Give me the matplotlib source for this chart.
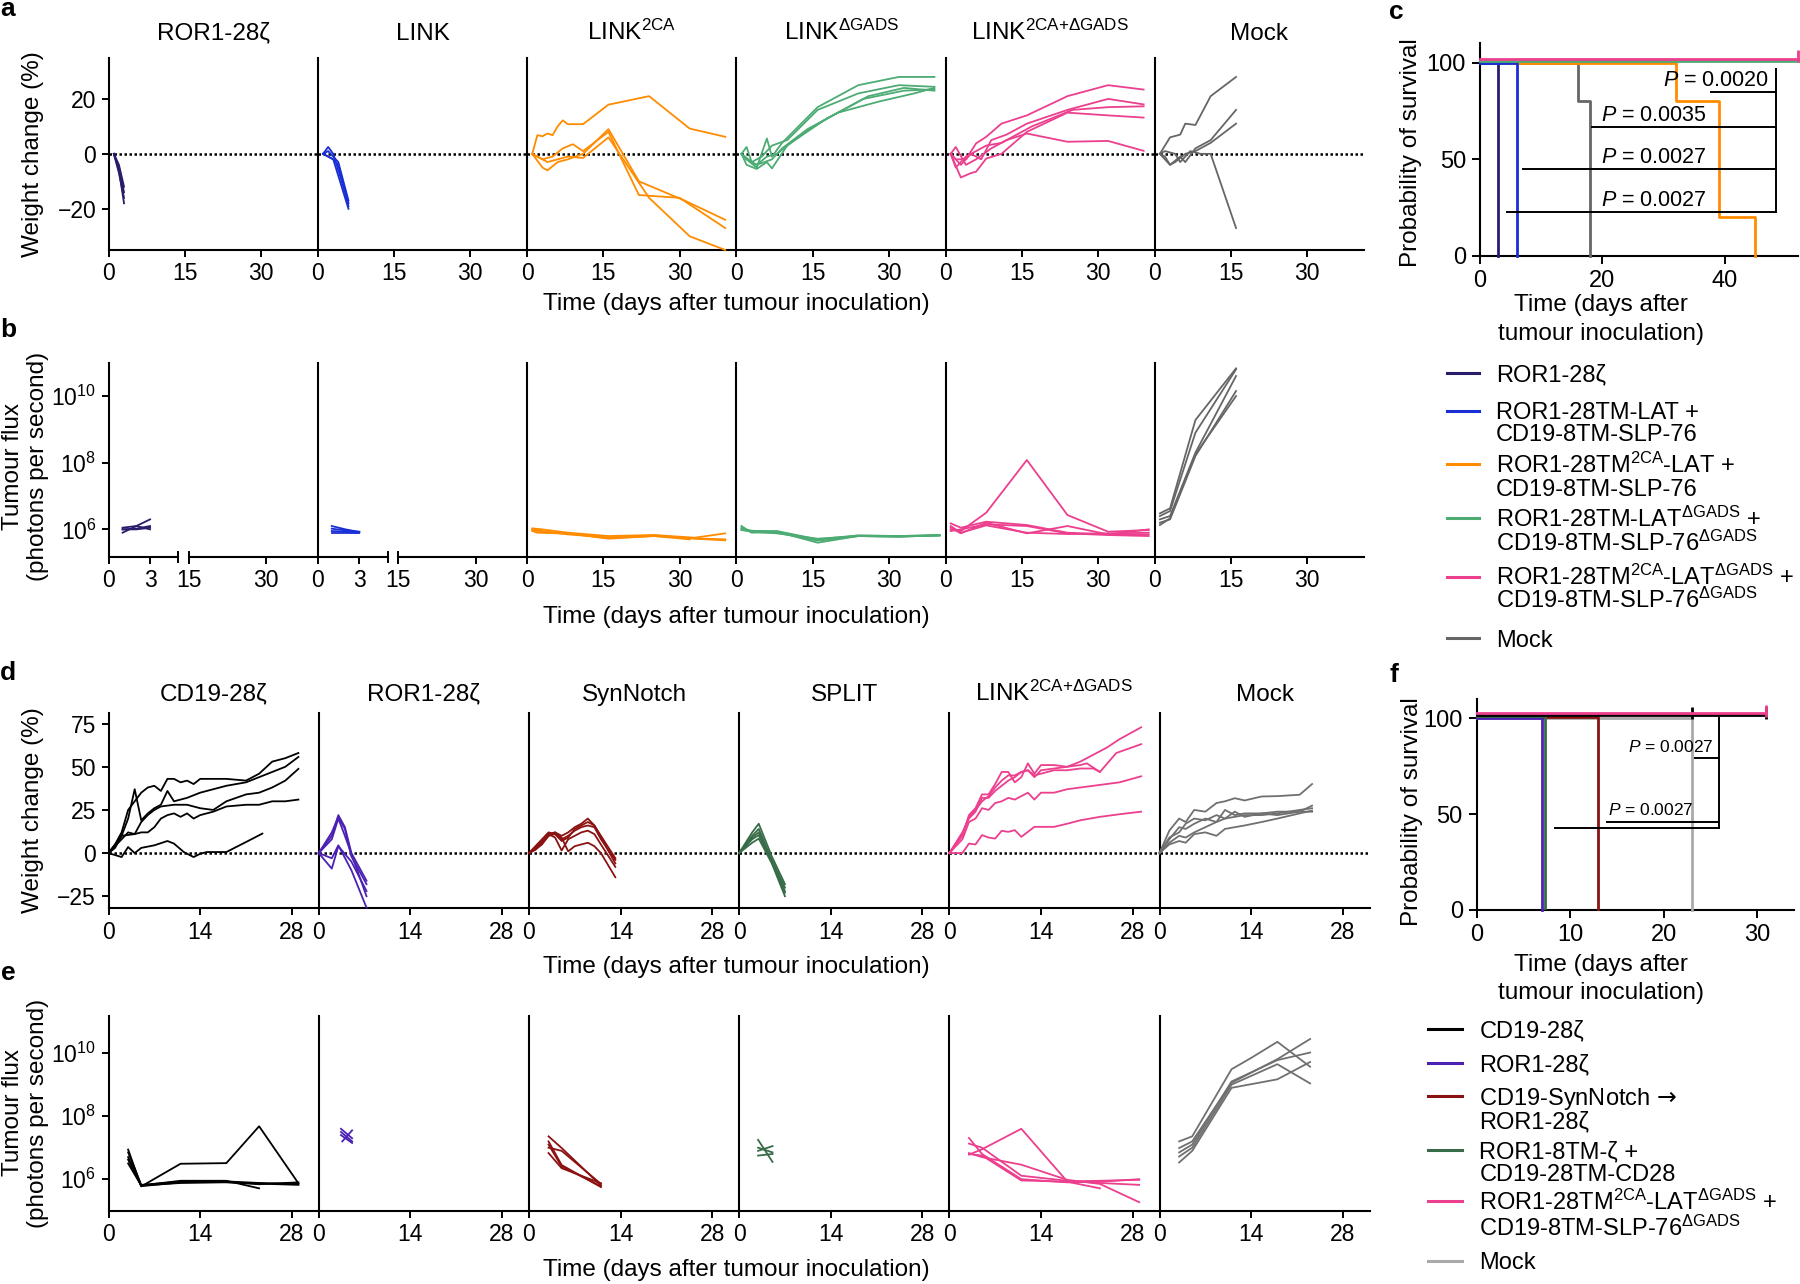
import numpy as np
import matplotlib.pyplot as plt
from matplotlib.lines import Line2D

# ---------------- panel a: weight change (%) ----------------
A_TITLES = ['ROR1-28ζ', 'LINK', 'LINK$^{2CA}$', 'LINK$^{ΔGADS}$', 'LINK$^{2CA{+}ΔGADS}$', 'Mock']
A_XTICKS = [0, 15, 30]
A_YTICKS = [-20, 0, 20]

A_ROR1_T = [[1, 2, 3], [1, 2, 3], [1, 2, 3], [1, 2, 3]]
A_ROR1_W = [[0, -4, -12], [0, -6, -18], [0, -5, -14], [0, -7, -16]]
A_LINK_T = [[1, 2, 3, 6], [1, 2, 3, 6], [1, 2, 4, 6], [1, 3, 4, 6]]
A_LINK_W = [[0, 2.5, 0, -18], [0, -1, -2, -20], [0, 1, -3, -17], [0, -2, -4, -19]]
A_2CA_T = [[1, 2, 3, 4, 5, 6, 7, 8, 11, 16, 24, 32, 39],
           [1, 3, 4, 6, 8, 11, 16, 22, 31, 39],
           [1, 3, 5, 7, 9, 11, 16, 22, 30, 39],
           [1, 2, 4, 6, 8, 11, 16, 24, 32, 39]]
A_2CA_W = [[0, 6.8, 6.4, 7.4, 6.8, 10, 12.2, 10.8, 10.8, 17.9, 21, 9.2, 6.2],
           [0, -5, -6, -3, -2, 0, 9, -10, -17, -24],
           [0, -2, -1, 2, 3.5, 1, 8, -15, -16, -27],
           [0, -1, -3, -2, -1, -1.5, 6, -16, -30, -35]]
A_DG_T = [[1, 2, 4, 6, 7, 9, 16, 24, 32, 39],
          [1, 2, 3, 5, 7, 10, 16, 24, 32, 39],
          [1, 2, 4, 6, 7, 10, 17, 25, 33, 39],
          [1, 3, 4, 6, 8, 12, 18, 26, 33, 39],
          [1, 2, 4, 7, 9, 14, 20, 28, 35, 39]]
A_DG_W = [[0, -2, -5, 5.6, -1, 4, 17, 25, 28, 28],
          [0, 2.5, -3, -1, 3, 5, 16, 22, 25, 24.4],
          [0, -4, -5.5, -3, -5.3, 3, 12, 20, 23, 23.5],
          [0, -3, -4, -1, 0, 6, 13, 21, 24, 23],
          [0, -2, -4, -2, 2, 9, 15, 19, 22, 24]]
A_2CADG_T = [[1, 2, 4, 6, 8, 11, 16, 24, 32, 39],
             [1, 3, 5, 7, 9, 12, 16, 24, 32, 39],
             [1, 2, 4, 6, 8, 11, 17, 25, 32, 39],
             [1, 3, 5, 6, 8, 11, 16, 24, 32, 39],
             [1, 2, 4, 6, 9, 12, 16, 24, 32, 39]]
A_2CADG_W = [[0, -2, -2, 3.8, 6.2, 11, 14, 21, 25, 23.4],
             [0, -4, 0, -2, 5, 7, 11, 16, 20, 18],
             [0, -5, -1, 1, 3, 4, 10, 16, 17, 17.3],
             [0, -8.6, -7, -6.5, -1.7, 0, 8, 15, 14, 13.2],
             [0, 2.5, -4, -2, 2, 5, 7.4, 4.4, 4.7, 1.1]]
A_MOCK_T = [[1, 2, 3, 5, 6, 8, 11, 16],
            [1, 2, 3, 5, 6, 8, 11, 16],
            [1, 2, 3, 4, 6, 8, 11, 16],
            [1, 2, 4, 5, 7, 9, 11, 16]]
A_MOCK_W = [[0, 3, 6, 7, 11, 10.5, 21, 28],
            [0, -2, -4, -1, -3, 2, 5, 16],
            [0, -1, -4, -3, 0, 1, 4, 11],
            [0, 1, 0, -3, 1, 0, 0, -27]]

# ---------------- panel b: tumour flux (log10 photons/s) ----------------
B_ROR1_T = [[1, 2, 3]] * 4
B_ROR1_F = [[5.9, 6.1, 6.3], [6.0, 6.0, 6.05], [6.05, 6.1, 6.0], [6.0, 6.02, 6.1]]
B_LINK_T = [[1, 2, 3]] * 4
B_LINK_F = [[6.1, 6.0, 5.92], [5.9, 5.9, 5.9], [6.02, 5.97, 5.93], [5.95, 5.93, 5.9]]
B_2CA_T = [[1, 3, 8, 16, 25, 33, 39], [1, 3, 8, 16, 25, 33, 39],
           [1, 3, 8, 16, 25, 33, 39], [1, 2, 8, 16, 25, 32]]
B_2CA_F = [[6.03, 6.0, 5.9, 5.8, 5.83, 5.75, 5.88], [5.98, 5.92, 5.88, 5.72, 5.8, 5.73, 5.7],
           [6.0, 5.95, 5.85, 5.76, 5.82, 5.72, 5.67], [5.95, 5.9, 5.87, 5.74, 5.8, 5.7]]
B_DG_T = [[1, 3, 8, 16, 24, 32, 40]] * 5
B_DG_F = [[6.1, 5.9, 5.93, 5.6, 5.8, 5.78, 5.82], [6.0, 5.95, 5.95, 5.7, 5.82, 5.8, 5.83],
          [6.05, 5.92, 5.9, 5.66, 5.8, 5.79, 5.81], [5.98, 5.93, 5.88, 5.72, 5.8, 5.78, 5.83],
          [6.02, 5.96, 5.92, 5.68, 5.81, 5.8, 5.82]]
B_2CADG_T = [[1, 3, 8, 16, 24, 32, 40]] * 5
B_2CADG_F = [[6.0, 5.95, 6.5, 8.08, 6.43, 5.93, 5.98], [6.18, 6.05, 6.23, 6.13, 5.9, 5.85, 5.85],
             [6.05, 5.88, 6.2, 5.88, 6.1, 5.85, 6.0], [5.95, 6.0, 6.15, 6.1, 5.88, 5.83, 5.8],
             [6.1, 5.9, 6.12, 5.9, 5.86, 5.88, 5.9]]
B_MOCK_T = [[1, 3, 8, 16]] * 5
B_MOCK_F = [[6.48, 6.63, 9.28, 10.83], [6.4, 6.55, 8.9, 10.8], [6.3, 6.4, 8.3, 10.6],
            [6.2, 6.3, 8.2, 10.15], [6.13, 6.33, 8.25, 10.0]]

AB_COLORS = ['#2b1b6b', '#1a2ed6', '#ff8c00', '#4dab74', '#ec3f8e', '#666666']

# ---------------- panel c: survival ----------------
C_ROR1_T, C_ROR1_P = [0, 3], [100, 0]
C_LINK_T, C_LINK_P = [0, 6], [100, 0]
C_2CA_T, C_2CA_P = [0, 32, 39, 45], [100, 80, 20, 0]
C_DG_T, C_DG_P = [0, 52], [100, 100]
C_2CADG_T, C_2CADG_P = [0, 52], [100, 100]
C_MOCK_T, C_MOCK_P = [0, 16, 18], [100, 80, 0]
C_2CADG_CENSOR = [52]
C_P_TEXT = ['0.0020', '0.0035', '0.0027', '0.0027']
C_P_Y = [84.8, 66.4, 44.8, 22.7]
C_P_X0 = [37.8, 18.3, 7.1, 4.4]
C_LEGEND = [['ROR1-28ζ'],
            ['ROR1-28TM-LAT +', 'CD19-8TM-SLP-76'],
            ['ROR1-28TM$^{2CA}$-LAT +', 'CD19-8TM-SLP-76'],
            ['ROR1-28TM-LAT$^{ΔGADS}$ +', 'CD19-8TM-SLP-76$^{ΔGADS}$'],
            ['ROR1-28TM$^{2CA}$-LAT$^{ΔGADS}$ +', 'CD19-8TM-SLP-76$^{ΔGADS}$'],
            ['Mock']]

# ---------------- panel d: weight change (%) ----------------
D_TITLES = ['CD19-28ζ', 'ROR1-28ζ', 'SynNotch', 'SPLIT', 'LINK$^{2CA{+}ΔGADS}$', 'Mock']
D_XTICKS = [0, 14, 28]
D_YTICKS = [-25, 0, 25, 50, 75]

D_CD19_T = [[0, 1, 2, 3, 4, 5, 6, 7, 8, 9, 10, 11, 12, 13, 14, 16, 18, 21, 23, 25, 27, 29],
            [0, 1, 2, 3, 4, 5, 6, 7, 8, 9, 10, 12, 14, 16, 18, 21, 23, 25, 27, 29],
            [0, 2, 3, 4, 5, 6, 7, 8, 10, 12, 14, 16, 18, 21, 23, 25, 27, 29],
            [0, 2, 4, 5, 6, 7, 8, 9, 10, 11, 12, 13, 14, 16, 18, 21, 23, 25, 27, 29],
            [0, 2, 3, 4, 5, 7, 9, 10, 11.5, 13, 14, 15, 18, 21, 23.5]]
D_CD19_W = [[0, 5, 12, 25, 30, 35, 38, 39, 36, 43, 43, 41, 42, 40, 43, 43, 43, 42, 46, 53, 55, 58],
            [0, 3, 10, 20, 37, 19, 23, 26, 28, 36, 30, 32, 35, 37, 39, 41, 44, 47, 50, 55.7],
            [0, 8, 12, 11, 18, 22, 25, 27, 28, 28, 26, 25, 30, 34, 35, 38, 42, 48.8],
            [0, 10, 11, 12, 12, 15, 20, 22, 23, 21, 23, 20, 22, 24, 27, 28, 28, 30, 30, 31],
            [0, -2.3, 3.5, 0, 3, 4.5, 7, 5.5, 0.6, -2.3, -0.4, 0.6, 0.6, 6.4, 11.3]]
D_ROR1_T = [[0, 2, 3, 4, 5, 7.3], [0, 2, 3, 4, 5, 7.3], [0, 2, 3, 5, 7.3],
            [0, 2, 3, 5, 7.3], [0, 2, 3, 4, 7.3]]
D_ROR1_W = [[0, 10, 22, 15, 0, -16], [0, 12, 21, 14, -2, -18], [0, -9, 4, -5, -22],
            [0, -3, 4.5, -10, -31.6], [0, 8, 20, 10, -25]]
D_SYN_T = [[0, 1, 2, 3, 4, 5, 6, 7, 8, 9, 10, 11, 13.2]] * 5
D_SYN_W = [[0, 3, 6, 11, 12, 10, 12, 15, 17, 20, 16, 10, -3],
           [0, 2, 5, 10, 12, 8, 10, 13, 15, 16, 15, 8, -4],
           [0, 3, 7, 11, 9, 1.5, 8, 10, 12, 13, 11, 5, -8],
           [0, 2, 6, 10, 11, 9, 1, 4, 5, 6, 4, 0, -14],
           [0, 4, 8, 12, 11, 7, 9, 14, 16, 18, 16, 9, -6]]
D_SPLIT_T = [[0, 1, 2, 3, 5, 7]] * 5
D_SPLIT_W = [[0, 6, 12, 17, -2, -18], [0, 5, 10, 14, -4, -20], [0, 4, 8, 10.4, -5, -22],
             [0, 3, 6, 8.4, -6, -25], [0, 4, 9, 12, -5, -23]]
D_2CADG_T = [[0, 2, 3, 4, 5, 6, 7, 8, 9, 10, 11, 12, 13, 14, 16, 18, 20, 22, 24, 26, 29.3],
             [0, 2, 3, 4, 5, 6, 7, 8, 9, 10, 11, 12, 13, 14, 16, 18, 20, 22, 23, 25.5, 29.3],
             [0, 2, 3, 4, 5, 6, 7, 8, 9, 10, 11, 12, 13, 14, 16, 18, 20, 22, 24, 26, 29.3],
             [0, 2, 3, 4, 5, 6, 7, 8, 9, 10, 11, 12, 13, 14, 16, 18, 20, 23, 26, 29.3],
             [0, 2, 3, 4, 5, 6, 7, 8, 9, 10, 11, 12, 13, 14, 16, 18, 20, 21, 23]]
D_2CADG_W = [[0, 10, 22, 26, 34, 34, 40, 47, 47, 41, 44, 52, 46, 51, 51, 50, 53, 57, 61, 66, 72.9],
             [0, 12, 20, 24, 32, 32, 36, 39, 42, 44, 47, 48, 45, 46, 48, 48, 49, 49, 47, 58, 63.1],
             [0, 8, 18, 20, 26, 25, 29, 30, 32, 31, 33, 35, 31, 35, 35, 37, 38, 39, 40, 41, 44.5],
             [0, 0, 5.5, 5, 10.4, 9, 8.4, 12.9, 12.3, 13.3, 9.4, 12.3, 15.2, 15.2, 15.2, 17, 19, 21, 22.5, 24],
             [0, 11, 21, 25, 30, 33, 38, 42, 45, 45, 47, 48, 44, 48, 49, 50, 51, 52, 47]]
D_MOCK_T = [[0, 1.5, 3, 4, 5.3, 7, 8.7, 10, 11.5, 13, 15.6, 18, 21.4, 23.3]] * 5
D_MOCK_W = [[0, 13, 20, 18, 25, 24, 29, 30, 31.8, 30.5, 32.8, 33, 33.8, 40],
            [0, 8, 15, 14, 17, 20, 18, 25, 22, 23, 23, 24, 24, 27.5],
            [0, 6, 10, 9, 12, 15, 18, 20, 21, 22, 22, 23, 25, 26],
            [0, 5, 7, 6, 11, 12, 10, 14, 15, 16, 18, 20, 23, 24.6],
            [0, 9, 12, 17, 20, 19, 22, 20, 24, 21, 23, 22, 24, 24]]

# ---------------- panel e: tumour flux (log10 photons/s) ----------------
E_CD19_T = [[3, 5, 11, 18, 23, 29], [3, 5, 11, 18, 23], [3, 5, 11, 18, 23, 29],
            [3, 5, 11, 18, 23, 29], [3, 5, 11, 18, 23, 29]]
E_CD19_F = [[6.94, 5.77, 6.49, 6.51, 7.68, 5.87], [6.62, 5.8, 5.95, 5.95, 5.71],
            [6.85, 5.82, 5.92, 5.93, 5.88, 5.85], [6.7, 5.78, 5.9, 5.9, 5.86, 5.82],
            [6.5, 5.8, 5.88, 5.91, 5.84, 5.9]]
E_ROR1_T = [[3.4, 5.1], [3.4, 5.1], [3.4, 5.1], [3.6, 5.1]]
E_ROR1_F = [[7.6, 7.3], [7.5, 7.2], [7.4, 7.15], [7.2, 7.55]]
E_SYN_T = [[3, 5, 11]] * 5
E_SYN_F = [[7.36, 6.99, 5.8], [7.1, 6.4, 5.78], [6.83, 6.35, 5.87], [7.0, 6.9, 5.85], [7.2, 6.45, 5.75]]
E_SPLIT_T = [[2.9, 5.1]] * 4
E_SPLIT_F = [[7.25, 6.55], [6.9, 7.05], [6.75, 6.8], [7.0, 6.85]]
E_2CADG_T = [[3, 5, 11, 18, 23, 29]] * 4 + [[3, 5, 11, 18, 23]]
E_2CADG_F = [[6.78, 6.95, 7.6, 5.93, 5.95, 5.98], [7.31, 6.8, 6.0, 5.9, 5.92, 6.0],
             [7.13, 7.0, 6.11, 5.95, 5.88, 5.82], [6.83, 6.7, 6.46, 5.98, 5.85, 5.27],
             [6.8, 6.75, 5.96, 5.92, 5.71]]
E_MOCK_T = [[3, 5, 11, 14, 18, 23]] + [[3, 5, 11, 18, 23]] * 4
E_MOCK_F = [[7.2, 7.36, 9.49, 9.85, 10.36, 9.57], [6.99, 7.2, 9.06, 9.81, 10.45],
            [6.72, 7.0, 9.0, 9.65, 9.04], [6.53, 6.9, 8.9, 9.17, 9.72],
            [6.85, 7.1, 9.1, 9.78, 10.02]]

DE_COLORS = ['#000000', '#4b21b3', '#8b1212', '#386b47', '#ec3f8e', '#707070']

# ---------------- panel f: survival ----------------
F_CD19_T, F_CD19_P = [0, 31], [100, 100]
F_ROR1_T, F_ROR1_P = [0, 7], [100, 0]
F_SYN_T, F_SYN_P = [0, 13], [100, 0]
F_SPLIT_T, F_SPLIT_P = [0, 7.3], [100, 0]
F_2CADG_T, F_2CADG_P = [0, 31], [100, 100]
F_MOCK_T, F_MOCK_P = [0, 23], [100, 0]
F_CD19_CENSOR = [23, 31]
F_2CADG_CENSOR = [31]
F_P_TEXT = ['0.0027', '0.0027']
F_P_Y = [79.6, 45.9, 42.8]
F_P_X0 = [23.4, 13.9, 8.4]
F_COLORS = ['#000000', '#4b21b3', '#8b1212', '#386b47', '#ec3f8e', '#aaaaaa']
F_LEGEND = [['CD19-28ζ'],
            ['ROR1-28ζ'],
            ['CD19-SynNotch $\\mathsf{→}$', 'ROR1-28ζ'],
            ['ROR1-8TM-ζ +', 'CD19-28TM-CD28'],
            ['ROR1-28TM$^{2CA}$-LAT$^{ΔGADS}$ +', 'CD19-8TM-SLP-76$^{ΔGADS}$'],
            ['Mock']]

# ---------------- setup ----------------
REG = 'Liberation Sans'
plt.rcParams['font.family'] = [REG, 'DejaVu Sans']
plt.rcParams['mathtext.fontset'] = 'custom'
plt.rcParams['mathtext.rm'] = REG
plt.rcParams['mathtext.it'] = REG + ':italic'
plt.rcParams['mathtext.sf'] = 'DejaVu Sans'
plt.rcParams['mathtext.default'] = 'regular'

W, H = 1800, 1284
fig = plt.figure(figsize=(18, 12.84), dpi=100)
fig.patch.set_facecolor('white')

TICK_FS = 16.5
TITLE_FS = 17.5
XLAB_FS = 17.5
YLAB_FS = 17.5


def fx(x):
    return x / W


def fy(y):
    return 1 - y / H


def px_axes(left, top, right, bottom):
    return fig.add_axes([left / W, 1 - bottom / H, (right - left) / W, (bottom - top) / H])


def strip_style(ax, show_y):
    for s in ('top', 'right'):
        ax.spines[s].set_visible(False)
    for s in ('left', 'bottom'):
        ax.spines[s].set_linewidth(1.5)
    ax.tick_params(direction='out', length=5, width=1.4, pad=4, labelsize=TICK_FS)
    if not show_y:
        ax.tick_params(axis='y', left=False, labelleft=False)
    ax.patch.set_alpha(0)


def draw_lines(ax, ts, vs, col, log=False):
    for t, v in zip(ts, vs):
        y = np.power(10.0, v) if log else v
        ax.plot(t, y, color=col, lw=1.3, zorder=3, clip_on=False)


LOG_TICKS = [1e6, 1e8, 1e10]
LOG_LABELS = ['$10^{6}$', '$10^{8}$', '$10^{10}$']
XLABEL = 'Time (days after tumour inoculation)'

# ---------------- a ----------------
A_GROUPS = [(A_ROR1_T, A_ROR1_W), (A_LINK_T, A_LINK_W), (A_2CA_T, A_2CA_W),
            (A_DG_T, A_DG_W), (A_2CADG_T, A_2CADG_W), (A_MOCK_T, A_MOCK_W)]
SUB_W = 209.2
X0 = 108.8
for i, ((ts, ws), col) in enumerate(zip(A_GROUPS, AB_COLORS)):
    L = X0 + i * SUB_W
    ax = px_axes(L, 57.7, L + SUB_W, 250)
    ax.axhline(0, color='black', lw=1.8, ls=(0, (1, 1)), zorder=1)
    draw_lines(ax, ts, ws, col)
    ax.set_xlim(0, 41.2)
    ax.set_ylim(-35, 35)
    ax.set_xticks(A_XTICKS)
    ax.set_yticks(A_YTICKS)
    strip_style(ax, i == 0)
    fig.text(fx(L + SUB_W / 2), fy(39.5), A_TITLES[i], ha='center', va='baseline', fontsize=TITLE_FS)
fig.text(fx(33), fy(154), 'Weight change (%)', rotation=90, ha='center', va='center', fontsize=YLAB_FS)
fig.text(fx(736), fy(304), XLABEL, ha='center', va='center', fontsize=XLAB_FS)

# ---------------- b ----------------
B_GROUPS = [(B_ROR1_T, B_ROR1_F), (B_LINK_T, B_LINK_F), (B_2CA_T, B_2CA_F),
            (B_DG_T, B_DG_F), (B_2CADG_T, B_2CADG_F), (B_MOCK_T, B_MOCK_F)]
B_TOP, B_BOT = 362.7, 556.7
for i, ((ts, fs), col) in enumerate(zip(B_GROUPS, AB_COLORS)):
    L = X0 + i * SUB_W
    if i < 2:
        ax = px_axes(L, B_TOP, L + 69.5, B_BOT)
        ax2 = px_axes(L + 80, B_TOP, L + SUB_W, B_BOT)
        ax.set_xlim(0, 5.05)
        ax.set_xticks([0, 3])
        ax2.set_xlim(15, 40)
        ax2.set_xticks([15, 30])
        ax2.set_yscale('log')
        ax2.set_ylim(10 ** 5.18, 10 ** 11.0)
        ax2.minorticks_off()
        strip_style(ax2, False)
        ax2.spines['left'].set_visible(False)
        ax.plot([1, 1], [-0.025, 0.025], transform=ax.transAxes, color='k', lw=1.4, clip_on=False)
        ax2.plot([0, 0], [-0.025, 0.025], transform=ax2.transAxes, color='k', lw=1.4, clip_on=False)
    else:
        ax = px_axes(L, B_TOP, L + SUB_W, B_BOT)
        ax.set_xlim(0, 41.2)
        ax.set_xticks(A_XTICKS)
    ax.set_yscale('log')
    draw_lines(ax, ts, fs, col, log=True)
    ax.set_ylim(10 ** 5.18, 10 ** 11.0)
    ax.minorticks_off()
    ax.set_yticks(LOG_TICKS)
    ax.set_yticklabels(LOG_LABELS)
    strip_style(ax, i == 0)
fig.text(fx(13), fy(466), 'Tumour flux', rotation=90, ha='center', va='center', fontsize=YLAB_FS)
fig.text(fx(38), fy(466), '(photons per second)', rotation=90, ha='center', va='center', fontsize=YLAB_FS)
fig.text(fx(736), fy(616.7), XLABEL, ha='center', va='center', fontsize=XLAB_FS)


# ---------------- survival helpers ----------------
def survival_axes(ax, xlim, xticks):
    for s in ('top', 'right'):
        ax.spines[s].set_visible(False)
    for s in ('left', 'bottom'):
        ax.spines[s].set_linewidth(1.5)
    ax.set_xlim(*xlim)
    ax.set_ylim(0, 110)
    ax.set_xticks(xticks)
    ax.set_yticks([0, 50, 100])
    ax.tick_params(direction='out', length=6, width=1.4, pad=4, labelsize=17)
    ax.patch.set_alpha(0)


def step_curve(ax, t, p, col, off, z, censor=()):
    p = np.asarray(p, dtype=float) + off
    ax.step(t, p, where='post', color=col, lw=2.0, zorder=z, clip_on=False)
    for c in censor:
        ax.plot([c], [p[-1] + 1.2], marker='|', ms=8, mew=2, color=col, zorder=z, clip_on=False)


def legend_block(x0, x1, xt, entries, colors, ys):
    for lines, col, yl in zip(entries, colors, ys):
        fig.add_artist(Line2D([fx(x0), fx(x1)], [fy(yl[0]), fy(yl[0])], color=col, lw=2.2))
        for txt, y in zip(lines, yl):
            fig.text(fx(xt), fy(y + 8.5), txt, ha='left', va='baseline', fontsize=17)


# ---------------- c ----------------
axc = px_axes(1480, 43.3, 1798, 255.7)
survival_axes(axc, (0, 52), [0, 20, 40])
C_CURVES = [(C_ROR1_T, C_ROR1_P), (C_LINK_T, C_LINK_P), (C_2CA_T, C_2CA_P),
            (C_DG_T, C_DG_P), (C_2CADG_T, C_2CADG_P), (C_MOCK_T, C_MOCK_P)]
C_OFF = [0, 0, 0, 0.8, 2.0, 0]
C_Z = [5, 5, 4, 6, 7, 3]
for k, ((t, p), col) in enumerate(zip(C_CURVES, AB_COLORS)):
    step_curve(axc, t, p, col, C_OFF[k], C_Z[k], C_2CADG_CENSOR if k == 4 else ())
axc.plot([48.4, 48.4], [96.5, C_P_Y[-1]], color='k', lw=1.4, zorder=8)
for k, (y, x0) in enumerate(zip(C_P_Y, C_P_X0)):
    axc.plot([x0, 48.4], [y, y], color='k', lw=1.4, zorder=8)
    xr = 47.3 if k == 0 else 37.0
    axc.text(xr, y + 6.0, '$\\mathit{P}$ = ' + C_P_TEXT[k], ha='right', va='center', fontsize=15.5, zorder=9)
fig.text(fx(1411), fy(153), 'Probability of survival', rotation=90, ha='center', va='center', fontsize=17.5)
fig.text(fx(1601), fy(305), 'Time (days after', ha='center', va='center', fontsize=17.5)
fig.text(fx(1601), fy(334), 'tumour inoculation)', ha='center', va='center', fontsize=17.5)

legend_block(1447, 1479, 1496, C_LEGEND, AB_COLORS,
             [[373.3], [410.7, 432.5], [464, 488], [518.3, 542], [576.7, 599.5], [638.3]])

# ---------------- d ----------------
D_GROUPS = [(D_CD19_T, D_CD19_W), (D_ROR1_T, D_ROR1_W), (D_SYN_T, D_SYN_W),
            (D_SPLIT_T, D_SPLIT_W), (D_2CADG_T, D_2CADG_W), (D_MOCK_T, D_MOCK_W)]
SUB_W2 = 210.2
for i, ((ts, ws), col) in enumerate(zip(D_GROUPS, DE_COLORS)):
    L = 108.5 + i * SUB_W2
    ax = px_axes(L, 713.3, L + SUB_W2, 908.3)
    ax.axhline(0, color='black', lw=1.8, ls=(0, (1, 1)), zorder=1)
    draw_lines(ax, ts, ws, col)
    ax.set_xlim(0, 32.1)
    ax.set_ylim(-32, 81)
    ax.set_xticks(D_XTICKS)
    ax.set_yticks(D_YTICKS)
    strip_style(ax, i == 0)
    fig.text(fx(L + SUB_W2 / 2), fy(700.7), D_TITLES[i], ha='center', va='baseline', fontsize=TITLE_FS)
fig.text(fx(33), fy(810), 'Weight change (%)', rotation=90, ha='center', va='center', fontsize=YLAB_FS)
fig.text(fx(736), fy(966.7), XLABEL, ha='center', va='center', fontsize=XLAB_FS)

# ---------------- e ----------------
E_GROUPS = [(E_CD19_T, E_CD19_F), (E_ROR1_T, E_ROR1_F), (E_SYN_T, E_SYN_F),
            (E_SPLIT_T, E_SPLIT_F), (E_2CADG_T, E_2CADG_F), (E_MOCK_T, E_MOCK_F)]
for i, ((ts, fs), col) in enumerate(zip(E_GROUPS, DE_COLORS)):
    L = 108.5 + i * SUB_W2
    ax = px_axes(L, 1016, L + SUB_W2, 1210.7)
    ax.set_yscale('log')
    draw_lines(ax, ts, fs, col, log=True)
    ax.set_xlim(0, 32.1)
    ax.set_ylim(10 ** 5.0, 10 ** 11.18)
    ax.minorticks_off()
    ax.set_xticks(D_XTICKS)
    ax.set_yticks(LOG_TICKS)
    ax.set_yticklabels(LOG_LABELS)
    strip_style(ax, i == 0)
fig.text(fx(13), fy(1113), 'Tumour flux', rotation=90, ha='center', va='center', fontsize=YLAB_FS)
fig.text(fx(38), fy(1113), '(photons per second)', rotation=90, ha='center', va='center', fontsize=YLAB_FS)
fig.text(fx(736), fy(1270), XLABEL, ha='center', va='center', fontsize=XLAB_FS)

# ---------------- f ----------------
axf = px_axes(1476.7, 699.3, 1794.3, 910)
survival_axes(axf, (0, 34), [0, 10, 20, 30])
F_CURVES = [(F_CD19_T, F_CD19_P), (F_ROR1_T, F_ROR1_P), (F_SYN_T, F_SYN_P),
            (F_SPLIT_T, F_SPLIT_P), (F_2CADG_T, F_2CADG_P), (F_MOCK_T, F_MOCK_P)]
F_OFF = [1.8, 0, 0.5, 1.2, 2.8, 0]
F_Z = [6, 5, 4, 5, 7, 3]
F_CENS = [F_CD19_CENSOR, (), (), (), F_2CADG_CENSOR, ()]
for k, ((t, p), col) in enumerate(zip(F_CURVES, F_COLORS)):
    step_curve(axf, t, p, col, F_OFF[k], F_Z[k], F_CENS[k])
axf.plot([25.9, 25.9], [100.3, F_P_Y[-1]], color='k', lw=1.4, zorder=8)
for y, x0 in zip(F_P_Y, F_P_X0):
    axf.plot([x0, 25.9], [y, y], color='k', lw=1.4, zorder=8)
axf.text(25.4, 85.1, '$\\mathit{P}$ = ' + F_P_TEXT[0], ha='right', va='center', fontsize=12.5, zorder=9)
axf.text(23.2, 52.0, '$\\mathit{P}$ = ' + F_P_TEXT[1], ha='right', va='center', fontsize=12.5, zorder=9)
fig.text(fx(1412), fy(811.7), 'Probability of survival', rotation=90, ha='center', va='center', fontsize=17.5)
fig.text(fx(1601), fy(965), 'Time (days after', ha='center', va='center', fontsize=17.5)
fig.text(fx(1601), fy(993), 'tumour inoculation)', ha='center', va='center', fontsize=17.5)

legend_block(1428.3, 1461.7, 1479.3, F_LEGEND, F_COLORS,
             [[1029.3], [1062.7], [1096, 1120], [1150, 1172.7], [1201, 1227.3], [1260.7]])

# ---------------- panel letters ----------------
for lab, x, y in [('a', 8, 9), ('b', 8, 330), ('c', 1396, 12), ('d', 8, 673), ('e', 8, 973), ('f', 1394, 675)]:
    fig.text(fx(x), fy(y), lab, ha='center', va='center', fontsize=19, fontweight='bold')

fig.savefig('out.png', dpi=100, facecolor='white')
